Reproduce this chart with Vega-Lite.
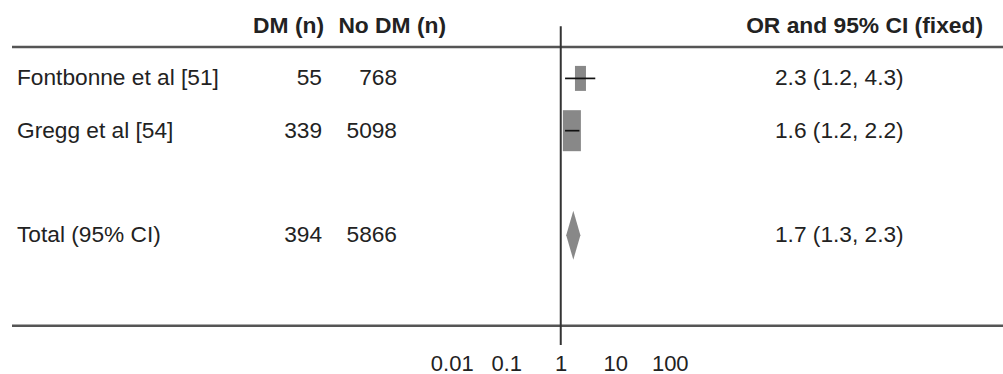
{
  "$schema": "https://vega.github.io/schema/vega-lite/v6.json",
  "padding": {"left": 10, "top": 0, "right": 0, "bottom": 0},
  "spacing": 0,
  "bounds": "flush",
  "background": "white",
  "config": {"view": {"stroke": null}, "font": "Liberation Sans"},
  "datasets": {
    "studies": [
      {"study": "Fontbonne et al [51]", "row": 1, "dm": 55, "nodm": 768, "n": 823, "or": 2.3, "lo": 1.2, "hi": 4.3, "label": "2.3 (1.2, 4.3)", "kind": "study"},
      {"study": "Gregg et al [54]", "row": 2, "dm": 339, "nodm": 5098, "n": 5437, "or": 1.6, "lo": 1.2, "hi": 2.2, "label": "1.6 (1.2, 2.2)", "kind": "study"},
      {"study": "Total (95% CI)", "row": 4, "dm": 394, "nodm": 5866, "n": 6260, "or": 1.7, "lo": 1.3, "hi": 2.3, "label": "1.7 (1.3, 2.3)", "kind": "total"}
    ],
    "headers": [
      {"col": "dm", "text": "DM (n)", "row": 0},
      {"col": "nodm", "text": "No DM (n)", "row": 0},
      {"col": "or", "text": "OR and 95% CI (fixed)", "row": 0}
    ],
    "one": [{}]
  },
  "resolve": {"scale": {"x": "independent", "y": "independent"}},
  "hconcat": [
    {
      "width": 240, "height": 345,
      "layer": [
        {"data": {"name": "one"}, "mark": {"type": "rule", "color": "#555", "strokeWidth": 2.5}, "encoding": {"y": {"datum": 0.4, "type": "quantitative", "scale": {"domain": [-0.5, 6.1], "nice": false, "zero": false, "reverse": true}, "axis": null}}},
        {"data": {"name": "one"}, "mark": {"type": "rule", "color": "#555", "strokeWidth": 2.5}, "encoding": {"y": {"datum": 5.73, "type": "quantitative"}}},
        {
          "data": {"name": "studies"},
          "mark": {"type": "text", "align": "left", "baseline": "middle", "dx": 5, "fontSize": 22.7, "color": "#222"},
          "encoding": {
            "x": {"datum": 0, "type": "quantitative", "scale": {"domain": [0, 1]}, "axis": null},
            "y": {"field": "row", "type": "quantitative"},
            "text": {"field": "study"}
          }
        }
      ]
    },
    {
      "width": 70, "height": 345,
      "layer": [
        {"data": {"name": "one"}, "mark": {"type": "rule", "color": "#555", "strokeWidth": 2.5}, "encoding": {"y": {"datum": 0.4, "type": "quantitative", "scale": {"domain": [-0.5, 6.1], "nice": false, "zero": false, "reverse": true}, "axis": null}}},
        {"data": {"name": "one"}, "mark": {"type": "rule", "color": "#555", "strokeWidth": 2.5}, "encoding": {"y": {"datum": 5.73, "type": "quantitative"}}},
        {
          "data": {"name": "studies"},
          "mark": {"type": "text", "align": "right", "baseline": "middle", "fontSize": 22.7, "color": "#222"},
          "encoding": {
            "x": {"datum": 1, "type": "quantitative", "scale": {"domain": [0, 1]}, "axis": null},
            "y": {"field": "row", "type": "quantitative"},
            "text": {"field": "dm"}
          }
        },
        {
          "data": {"name": "headers"},
          "transform": [{"filter": "datum.col == 'dm'"}],
          "mark": {"type": "text", "align": "right", "baseline": "middle", "dx": 2, "fontSize": 22.8, "fontWeight": "bold", "color": "#222"},
          "encoding": {
            "x": {"datum": 1, "type": "quantitative"},
            "y": {"field": "row", "type": "quantitative"},
            "text": {"field": "text"}
          }
        }
      ]
    },
    {
      "width": 75, "height": 345,
      "layer": [
        {"data": {"name": "one"}, "mark": {"type": "rule", "color": "#555", "strokeWidth": 2.5}, "encoding": {"y": {"datum": 0.4, "type": "quantitative", "scale": {"domain": [-0.5, 6.1], "nice": false, "zero": false, "reverse": true}, "axis": null}}},
        {"data": {"name": "one"}, "mark": {"type": "rule", "color": "#555", "strokeWidth": 2.5}, "encoding": {"y": {"datum": 5.73, "type": "quantitative"}}},
        {
          "data": {"name": "studies"},
          "mark": {"type": "text", "align": "right", "baseline": "middle", "fontSize": 22.7, "color": "#222"},
          "encoding": {
            "x": {"datum": 1, "type": "quantitative", "scale": {"domain": [0, 1]}, "axis": null},
            "y": {"field": "row", "type": "quantitative"},
            "text": {"field": "nodm"}
          }
        },
        {
          "data": {"name": "headers"},
          "transform": [{"filter": "datum.col == 'nodm'"}],
          "mark": {"type": "text", "align": "right", "baseline": "middle", "dx": 49, "fontSize": 22.8, "fontWeight": "bold", "color": "#222"},
          "encoding": {
            "x": {"datum": 1, "type": "quantitative"},
            "y": {"field": "row", "type": "quantitative"},
            "text": {"field": "text"}
          }
        }
      ]
    },
    {
      "width": 378, "height": 345,
      "layer": [
        {"data": {"name": "one"}, "mark": {"type": "rule", "color": "#555", "strokeWidth": 2.5}, "encoding": {"y": {"datum": 0.4, "type": "quantitative", "scale": {"domain": [-0.5, 6.1], "nice": false, "zero": false, "reverse": true}, "axis": null}}},
        {"data": {"name": "one"}, "mark": {"type": "rule", "color": "#555", "strokeWidth": 2.5}, "encoding": {"y": {"datum": 5.73, "type": "quantitative"}}},
        {
          "data": {"name": "one"},
          "mark": {"type": "rule", "color": "#333", "strokeWidth": 2},
          "encoding": {
            "x": {"datum": 1, "type": "quantitative", "scale": {"type": "log", "domain": [0.0009895, 8535], "nice": false},
              "axis": {"values": [0.01, 0.1, 1, 10, 100], "format": "~g", "domain": false, "ticks": false, "grid": false, "title": null, "labelFontSize": 22, "labelColor": "#222", "labelPadding": 8, "labelFlush": false, "labelOverlap": false, "labelFont": "Liberation Sans"}},
            "y": {"datum": 0, "type": "quantitative"},
            "y2": {"datum": 6.1}
          }
        },
        {
          "data": {"name": "studies"},
          "transform": [{"filter": "datum.kind == 'study'"}],
          "mark": {"type": "point", "filled": true, "shape": "M-0.44,-1L0.44,-1L0.44,1L-0.44,1Z", "color": "#888", "opacity": 1},
          "encoding": {
            "x": {"field": "or", "type": "quantitative"},
            "y": {"field": "row", "type": "quantitative"},
            "size": {"field": "n", "type": "quantitative", "scale": {"domain": [823, 5437], "range": [625, 1681], "zero": false}, "legend": null}
          }
        },
        {
          "data": {"name": "studies"},
          "transform": [{"filter": "datum.kind == 'study'"}],
          "mark": {"type": "rule", "color": "#111", "strokeWidth": 1.7},
          "encoding": {
            "x": {"field": "lo", "type": "quantitative"},
            "x2": {"field": "hi"},
            "y": {"field": "row", "type": "quantitative"}
          }
        },
        {
          "data": {"name": "studies"},
          "transform": [{"filter": "datum.kind == 'total'"}],
          "mark": {"type": "point", "filled": true, "shape": "M0,-1L0.29,0L0,1L-0.29,0Z", "size": 2401, "color": "#888", "opacity": 1},
          "encoding": {
            "x": {"field": "or", "type": "quantitative"},
            "y": {"field": "row", "type": "quantitative"}
          }
        }
      ]
    },
    {
      "width": 230, "height": 345,
      "layer": [
        {"data": {"name": "one"}, "mark": {"type": "rule", "color": "#555", "strokeWidth": 2.5}, "encoding": {"y": {"datum": 0.4, "type": "quantitative", "scale": {"domain": [-0.5, 6.1], "nice": false, "zero": false, "reverse": true}, "axis": null}}},
        {"data": {"name": "one"}, "mark": {"type": "rule", "color": "#555", "strokeWidth": 2.5}, "encoding": {"y": {"datum": 5.73, "type": "quantitative"}}},
        {
          "data": {"name": "studies"},
          "mark": {"type": "text", "align": "left", "baseline": "middle", "fontSize": 22.7, "color": "#222"},
          "encoding": {
            "x": {"datum": 0, "type": "quantitative", "scale": {"domain": [0, 1]}, "axis": null},
            "y": {"field": "row", "type": "quantitative"},
            "text": {"field": "label"}
          }
        },
        {
          "data": {"name": "headers"},
          "transform": [{"filter": "datum.col == 'or'"}],
          "mark": {"type": "text", "align": "right", "baseline": "middle", "dx": -22, "fontSize": 22.8, "fontWeight": "bold", "color": "#222"},
          "encoding": {
            "x": {"datum": 1, "type": "quantitative"},
            "y": {"field": "row", "type": "quantitative"},
            "text": {"field": "text"}
          }
        }
      ]
    }
  ]
}
